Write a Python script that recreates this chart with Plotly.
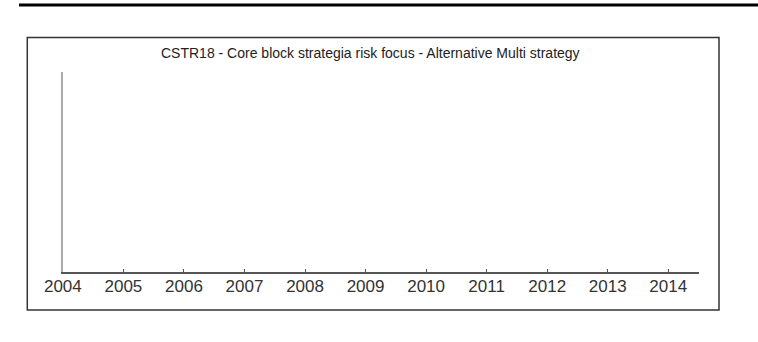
import plotly.graph_objects as go

# Chart content
title_text = "CSTR18 - Core block strategia risk focus - Alternative Multi strategy"
years = [2004, 2005, 2006, 2007, 2008, 2009, 2010, 2011, 2012, 2013, 2014]
tick_labels = [str(y) for y in years]
series_values = []  # no series values available for this strategy

W, H = 758, 342

fig = go.Figure()
fig.add_trace(go.Scatter(x=years[:len(series_values)], y=series_values,
                         mode="lines", line=dict(color="#1f3f8f", width=1.5),
                         showlegend=False, hoverinfo="skip"))

# plot area in pixels
px0, px1 = 45, 697
py_top, py_bot = 72, 272

shapes = [
    # heavy rule across the top of the page
    dict(type="line", xref="paper", yref="paper",
         x0=0, x1=1, y0=1 - 5 / H, y1=1 - 5 / H,
         line=dict(color="black", width=3)),
    # chart frame
    dict(type="rect", xref="paper", yref="paper",
         x0=8.5 / W, x1=718 / W, y0=1 - 310 / H, y1=1 - 37.5 / H,
         line=dict(color="#333333", width=1.5), fillcolor="rgba(0,0,0,0)",
         layer="below"),
]

fig.update_layout(
    width=W, height=H,
    margin=dict(l=0, r=0, t=0, b=0),
    paper_bgcolor="white", plot_bgcolor="white",
    showlegend=False,
    xaxis=dict(
        domain=[px0 / W, px1 / W],
        range=[2004, 2014.5],
        tickvals=years, ticktext=tick_labels,
        showline=True, linecolor="#555555", linewidth=1.5,
        ticks="inside", ticklen=3, tickwidth=1, tickcolor="#555555",
        ticklabelstandoff=-2,
        showgrid=False, zeroline=False,
        tickfont=dict(family="Liberation Sans, Arial, sans-serif",
                      size=17, color="#333333"),
        fixedrange=True,
    ),
    yaxis=dict(
        domain=[1 - py_bot / H, 1 - py_top / H],
        range=[0, 1],
        showline=True, linecolor="#aaaaaa", linewidth=1.5,
        showticklabels=False, ticks="",
        showgrid=False, zeroline=False,
        fixedrange=True,
    ),
    shapes=shapes,
    annotations=[
        dict(text=title_text, xref="paper", yref="paper",
             x=361 / W, y=1 - 53 / H, xanchor="center", yanchor="middle",
             showarrow=False,
             font=dict(family="Liberation Sans, Arial, sans-serif",
                       size=14, color="#222222")),
    ],
)

fig.write_html("out.html")
